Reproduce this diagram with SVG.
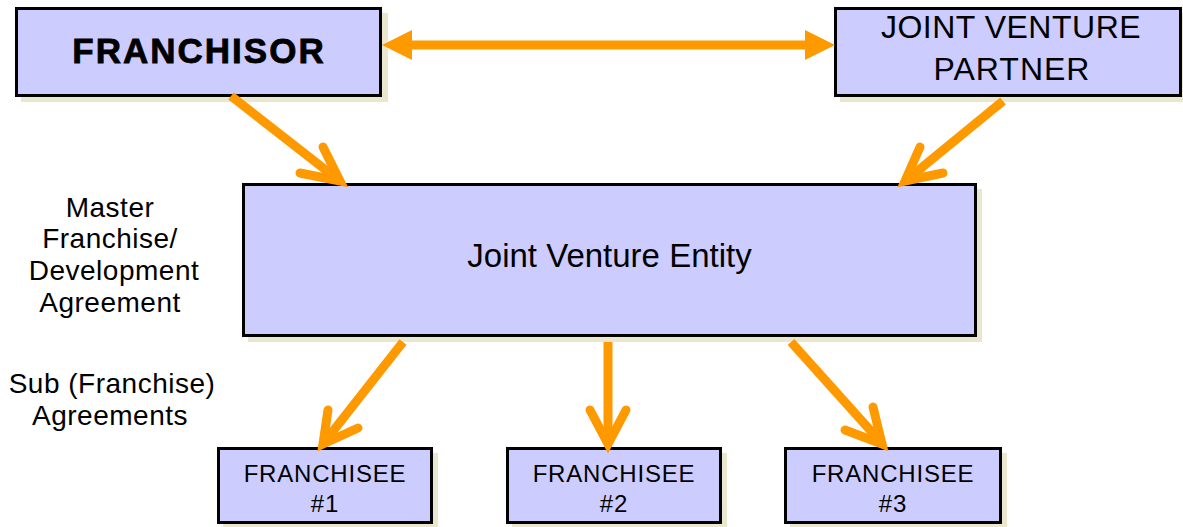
<svg xmlns="http://www.w3.org/2000/svg" width="1183" height="527" viewBox="0 0 1183 527">
<style>
.box{fill:#ccccff;stroke:#000;stroke-width:3}
.shadow{fill:#ebe7cf;stroke:none}
.t{font-family:"Liberation Sans",Arial,sans-serif;fill:#000;text-anchor:middle}
.lbl{font-size:28px;letter-spacing:0.5px}
.fr{font-size:24px;letter-spacing:0.8px}
.shaft{stroke:#ff9900;stroke-width:9;fill:none;stroke-linecap:butt}
.head{stroke:#ff9900;stroke-width:9;fill:none;stroke-linecap:round;stroke-linejoin:miter;stroke-miterlimit:6}
</style>
<rect width="1183" height="527" fill="#fff"/>
<g id="franchisor">
<rect class="shadow" x="21" y="13" width="367" height="89"/>
<rect class="box" x="16.5" y="8.5" width="364" height="87"/>
<text class="t" x="199" y="63" font-size="35" font-weight="bold" stroke="#000" stroke-width="0.8" letter-spacing="2">FRANCHISOR</text>
</g>
<g id="jv-partner">
<rect class="shadow" x="840" y="13" width="345" height="89"/>
<rect class="box" x="835.5" y="8.5" width="345" height="87"/>
<text class="t" x="1011" y="38" font-size="32" letter-spacing="0.5">JOINT VENTURE</text>
<text class="t" x="1012" y="80" font-size="32" letter-spacing="1">PARTNER</text>
</g>
<g id="jv-entity">
<rect class="shadow" x="248" y="189" width="734" height="153"/>
<rect class="box" x="243.5" y="184.5" width="732" height="151"/>
<text class="t" x="609.5" y="267" font-size="33">Joint Venture Entity</text>
</g>
<g id="franchisee-1">
<rect class="shadow" x="223" y="453" width="215" height="76"/>
<rect class="box" x="218.5" y="448.5" width="213" height="74"/>
<text class="t fr" x="325" y="482">FRANCHISEE</text>
<text class="t fr" x="325" y="512">#1</text>
</g>
<g id="franchisee-2">
<rect class="shadow" x="512" y="453" width="215" height="76"/>
<rect class="box" x="507.5" y="448.5" width="213" height="74"/>
<text class="t fr" x="614" y="482">FRANCHISEE</text>
<text class="t fr" x="614" y="512">#2</text>
</g>
<g id="franchisee-3">
<rect class="shadow" x="790" y="453" width="217" height="76"/>
<rect class="box" x="785.5" y="448.5" width="215" height="74"/>
<text class="t fr" x="893" y="482">FRANCHISEE</text>
<text class="t fr" x="893" y="512">#3</text>
</g>
<g id="labels">
<text class="t lbl" x="110" y="217">Master</text>
<text class="t lbl" x="110" y="248">Franchise/</text>
<text class="t lbl" x="114" y="280">Development</text>
<text class="t lbl" x="110" y="312">Agreement</text>
<text class="t lbl" x="112" y="393">Sub (Franchise)</text>
<text class="t lbl" x="110" y="425">Agreements</text>
</g>
<g id="connectors">
<line class="shaft" x1="408" y1="45" x2="809" y2="45"/>
<polygon points="382,45 412,30 412,60" fill="#ff9900"/>
<polygon points="835,45 805,30 805,60" fill="#ff9900"/>
<line class="shaft" x1="231" y1="96" x2="336" y2="178"/>
<polyline class="head" points="323,147 340,181 300,173"/>
<line class="shaft" x1="1003" y1="101" x2="909" y2="178"/>
<polyline class="head" points="920,147 905,181 943,173"/>
<line class="shaft" x1="403" y1="342" x2="326" y2="440"/>
<polyline class="head" points="328,410 323,444 358,428"/>
<line class="shaft" x1="608" y1="342" x2="608" y2="440"/>
<polyline class="head" points="590,410 608,444 626,410"/>
<line class="shaft" x1="791" y1="342" x2="879" y2="440"/>
<polyline class="head" points="873,407 882,444 845,430"/>
</g>
</svg>
